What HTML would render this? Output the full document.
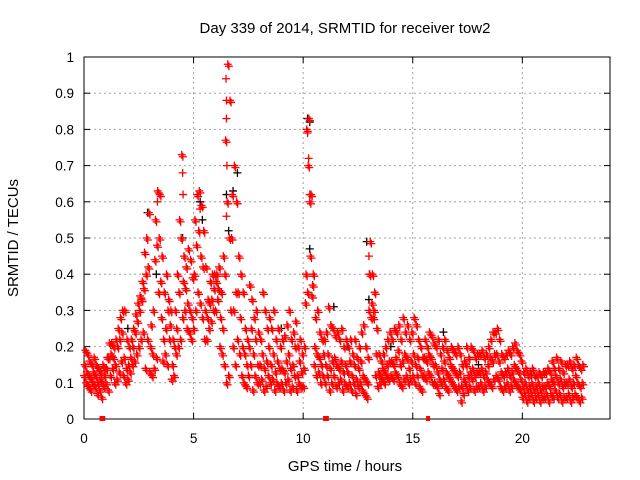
<!DOCTYPE html>
<html><head><meta charset="utf-8">
<style>
html,body{margin:0;padding:0;background:#fff;}
svg{display:block;font-family:"Liberation Sans",sans-serif;}
</style></head>
<body>
<svg id="chart" width="640" height="480" viewBox="0 0 640 480">
<rect width="640" height="480" fill="#fff"/>
<text x="345" y="33" text-anchor="middle" font-size="15" fill="#000">Day 339 of 2014, SRMTID for receiver tow2</text>
<g id="grid"></g>
<g id="axes"></g>
<g id="black"></g>
<g id="red"></g>
<text x="345" y="471" text-anchor="middle" font-size="15">GPS time / hours</text>
<text transform="translate(18,238) rotate(-90)" text-anchor="middle" font-size="15">SRMTID / TECUs</text>
</svg>
<script>
const xTicks=[0,5,10,15,20];
const yTicks=[0,0.1,0.2,0.3,0.4,0.5,0.6,0.7,0.8,0.9,1];
const yTickLabels=["0","0.1","0.2","0.3","0.4","0.5","0.6","0.7","0.8","0.9","1"];
const stepHours=0.1;
const lo=[.12,.10,.09,.08,.10,.09,.07,.08,.06,.09,
.10,.08,.12,.14,.10,.11,.13,.16,.12,.10,
.11,.13,.15,.16,.18,.20,.22,.24,.14,.22,
.13,.12,.14,.17,.35,.38,.16,.18,.15,.22,
.11,.12,.18,.20,.22,.28,.30,.25,.24,.22,
.25,.30,.35,.32,.28,.22,.22,.25,.27,.30,
.30,.33,.20,.18,.15,.10,.12,.30,.20,.15,
.22,.18,.12,.10,.09,.12,.15,.08,.12,.10,
.10,.11,.08,.09,.12,.10,.11,.08,.10,.09,
.10,.08,.10,.11,.08,.09,.12,.08,.10,.09,
.09,.32,.35,.60,.34,.15,.12,.13,.10,.12,
.10,.12,.08,.10,.12,.09,.10,.11,.08,.10,
.09,.10,.08,.10,.07,.09,.10,.08,.07,.06,
.30,.28,.28,.12,.09,.10,.11,.10,.12,.11,
.12,.11,.13,.12,.10,.09,.11,.12,.10,.11,
.12,.10,.12,.09,.08,.12,.11,.13,.12,.10,
.10,.09,.07,.10,.11,.09,.08,.11,.10,.09,
.08,.09,.05,.07,.10,.08,.09,.11,.08,.09,
.09,.10,.08,.09,.11,.10,.09,.11,.12,.11,
.09,.08,.09,.10,.08,.09,.11,.10,.09,.08,
.06,.07,.05,.06,.07,.05,.06,.07,.05,.06,
.06,.07,.05,.07,.06,.08,.06,.07,.05,.06,
.06,.07,.05,.06,.07,.06,.05,.06];
const mid=[.15,.13,.12,.11,.13,.12,.10,.11,.10,.12,
.14,.17,.18,.17,.15,.20,.22,.24,.17,.14,
.15,.17,.20,.24,.27,.30,.33,.36,.40,.42,
.20,.18,.44,.48,.50,.28,.22,.25,.30,.26,
.15,.20,.25,.35,.50,.38,.36,.32,.30,.28,
.40,.48,.52,.45,.42,.30,.28,.32,.33,.36,
.38,.36,.28,.25,.40,.60,.50,.50,.30,.35,
.35,.28,.20,.18,.15,.20,.25,.18,.22,.15,
.15,.18,.14,.16,.20,.15,.18,.13,.16,.14,
.14,.13,.16,.18,.14,.15,.20,.12,.16,.13,
.14,.40,.70,.45,.37,.20,.18,.17,.15,.18,
.15,.18,.14,.16,.17,.15,.14,.16,.13,.15,
.13,.16,.12,.15,.11,.14,.16,.12,.11,.10,
.40,.32,.30,.18,.13,.12,.14,.13,.15,.16,
.16,.15,.17,.19,.15,.16,.18,.17,.14,.16,
.18,.15,.17,.14,.12,.17,.16,.18,.17,.15,
.15,.13,.11,.14,.16,.13,.12,.15,.14,.13,
.12,.13,.09,.11,.15,.12,.13,.14,.12,.13,
.13,.14,.12,.13,.15,.17,.16,.18,.18,.16,
.13,.12,.13,.14,.12,.13,.15,.14,.13,.11,
.09,.10,.08,.09,.10,.08,.09,.10,.08,.09,
.09,.10,.09,.11,.10,.12,.10,.11,.09,.10,
.10,.11,.09,.10,.12,.10,.09,.10];
const hi=[.19,.18,.16,.15,.17,.15,.14,.13,.15,.14,
.17,.21,.21,.20,.22,.25,.28,.30,.30,.22,
.20,.22,.25,.29,.32,.34,.38,.46,.50,.57,
.26,.30,.55,.63,.62,.45,.35,.40,.33,.30,
.22,.30,.40,.55,.73,.45,.42,.47,.44,.39,
.55,.62,.63,.59,.52,.42,.33,.38,.40,.40,
.40,.42,.35,.45,.77,.98,.88,.62,.70,.60,
.45,.40,.35,.25,.22,.37,.33,.28,.30,.24,
.22,.35,.30,.25,.28,.25,.30,.22,.25,.20,
.22,.23,.26,.30,.22,.24,.27,.20,.22,.18,
.20,.80,.83,.62,.40,.28,.30,.24,.22,.22,
.24,.31,.26,.25,.23,.24,.22,.25,.20,.22,
.20,.22,.18,.22,.17,.20,.24,.26,.20,.17,
.49,.40,.35,.25,.18,.16,.18,.20,.22,.24,
.22,.25,.24,.26,.22,.28,.24,.26,.22,.24,
.28,.26,.22,.20,.17,.22,.20,.24,.23,.21,
.20,.22,.18,.20,.22,.19,.17,.20,.19,.18,
.20,.18,.15,.16,.20,.17,.20,.19,.17,.18,
.18,.19,.17,.18,.20,.22,.24,.24,.25,.22,
.18,.17,.18,.19,.18,.20,.21,.19,.18,.16,
.13,.14,.12,.13,.14,.12,.12,.13,.12,.13,
.13,.14,.13,.16,.14,.17,.14,.16,.13,.15,
.15,.16,.14,.15,.17,.15,.14,.15];
const spikeTimes=[6.48,6.5,6.5,6.52,6.5,10.2,10.25,10.3,13.0,13.02,4.5,4.52,3.35,5.3];
const spikeVals=[0.94,0.88,0.83,0.70,0.56,0.79,0.72,0.62,0.45,0.40,0.68,0.62,0.60,0.58];
const blackTimes=[2.9,3.3,4.5,5.3,6.5,6.8,7.0,10.2,10.3,10.3,11.4,12.9,13.0,16.4,20.4,2.0,9.0,14.0,18.0,12.0,6.6,5.4];
const blackVals=[0.57,0.40,0.50,0.60,0.62,0.63,0.68,0.83,0.82,0.47,0.31,0.49,0.33,0.24,0.12,0.25,0.25,0.20,0.15,0.20,0.52,0.55];
const zeroTimes=[0.8,0.88,11.0,11.08,15.7];

const L=84,R=610,T=57,B=419,XMAX=24;
const sx=v=>L+v/XMAX*(R-L);
const sy=v=>B-v*(B-T);
const NS="http://www.w3.org/2000/svg";
function mk(tag,attrs,parent){const e=document.createElementNS(NS,tag);for(const k in attrs)e.setAttribute(k,attrs[k]);parent.appendChild(e);return e;}
const grid=document.getElementById('grid'),axes=document.getElementById('axes');
yTicks.forEach((v,i)=>{
  const y=sy(v);
  if(v>0&&v<1){const g=mk('line',{x1:L,x2:R,y1:y,y2:y,stroke:'#a0a0a0','stroke-dasharray':'2,3'},grid);
  
  }
  mk('line',{x1:L,x2:L+6,y1:y,y2:y,stroke:'#000'},axes);
  mk('line',{x1:R,x2:R-6,y1:y,y2:y,stroke:'#000'},axes);
  const t=mk('text',{x:L-10,y:y+5,'text-anchor':'end','font-size':13.5},axes);
  t.textContent=yTickLabels[i];
  
  
});
xTicks.forEach(v=>{
  const x=sx(v);
  if(v>0){const g=mk('line',{x1:x,x2:x,y1:T,y2:B,stroke:'#a0a0a0','stroke-dasharray':'2,3'},grid);
  
  }
  mk('line',{x1:x,x2:x,y1:B,y2:B-6,stroke:'#000'},axes);
  mk('line',{x1:x,x2:x,y1:T,y2:T+6,stroke:'#000'},axes);
  const t=mk('text',{x:x,y:B+24,'text-anchor':'middle','font-size':13.5},axes);
  t.textContent=String(v);
  
  
});
const bd=mk('rect',{x:L,y:T,width:R-L,height:B-T,fill:'none',stroke:'#000'},axes);


function plus(g,x,y,c){
  const p=mk('path',{d:`M${x-4},${y}h8M${x},${y-4}v8`,stroke:c,'stroke-width':1.3,fill:'none'},g);
  
  
}
const bg=document.getElementById('black'),rg=document.getElementById('red');
blackTimes.forEach((t,i)=>plus(bg,sx(t),sy(blackVals[i]),'#000'));
[lo,mid,hi].forEach((arr,k)=>arr.forEach((v,i)=>{
  plus(rg,sx(i*stepHours+k*0.03),sy(v),'#f00');
  plus(rg,sx(i*stepHours+k*0.03+0.05),sy(v)+2,'#f00');
}));
spikeTimes.forEach((t,i)=>plus(rg,sx(t),sy(spikeVals[i]),'#f00'));
zeroTimes.forEach(t=>{
  const r=mk('rect',{x:sx(t)-2,y:sy(0)-3,width:4,height:5,fill:'#f00'},rg);
  
  
});
</script>
</body></html>
